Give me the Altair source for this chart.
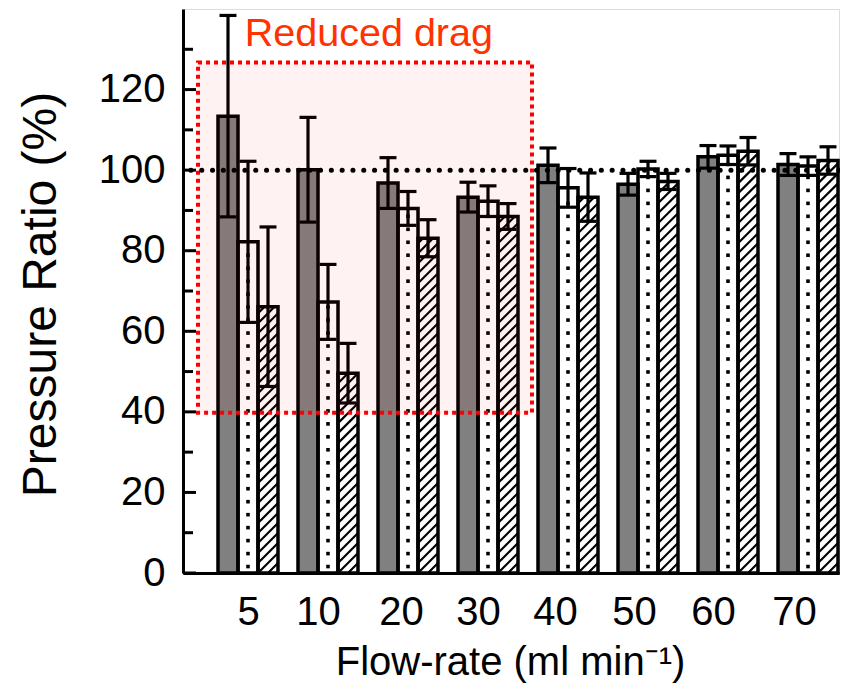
import altair as alt
import pandas as pd
import numpy as np

# ---------------- data ----------------
flow_labels = ["5", "10", "20", "30", "40", "50", "60", "70"]
label_pos = [0, 0.875, 1.9125, 2.875, 3.8375, 4.825, 5.8125, 6.825]

dark_vals = [113.4, 100.1, 96.8, 93.3, 101.2, 96.5, 103.3, 101.4]
dark_err = [25.0, 13.0, 6.3, 3.7, 4.3, 2.7, 2.8, 2.7]
dot_vals = [82.2, 67.3, 90.5, 92.3, 95.6, 100.3, 103.7, 101.0]
dot_err = [20.0, 9.3, 4.2, 3.8, 4.8, 1.9, 2.3, 2.3]
hatch_vals = [66.1, 49.6, 83.1, 88.5, 93.3, 97.2, 104.7, 102.4]
hatch_err = [19.8, 7.4, 4.6, 3.2, 6.0, 2.0, 3.4, 3.4]

y_major = [0, 20, 40, 60, 80, 100, 120]
y_minor = [10, 30, 50, 70, 90, 110, 130]

region_x = [-0.625, 3.55]
region_y = [39.8, 126.7]
ref_level = [100]
note_text = ["Reduced drag"]
note_pos = [(-0.04, 130.8)]

FONT = "Liberation Sans"

# ---------------- tables ----------------
series = [
    ("dark", dark_vals, dark_err, -0.25, "#808080"),
    ("dot", dot_vals, dot_err, 0.0, "#ffffff"),
    ("hatch", hatch_vals, hatch_err, 0.25, "#ffffff"),
]
half = 0.125
cap = 0.106
rows = []
for name, vals, errs, off, col in series:
    for i, (v, e) in enumerate(zip(vals, errs)):
        c = i + off
        rows.append(dict(series=name, c=c, x1=c - half, x2=c + half, zero=0, v=v,
                         lo=v - e, hi=v + e, cl=c - cap, cr=c + cap, fill=col))
bars = pd.DataFrame(rows)

# dot pattern (style) derived from the dotted bars
dot_step = 3.22
dots = []
for i, v in enumerate(dot_vals):
    for y in np.arange(1.6, v - 0.8, dot_step):
        dots.append(dict(x=i, y=y))
dots = pd.DataFrame(dots)

# hatch pattern (style) derived from the hatched bars
hstep = 2.48
hdy = 4.96
segs = []
for i, v in enumerate(hatch_vals):
    x0 = i + 0.125
    w = 0.25
    for y in np.arange(-hdy, v, hstep):
        t0 = max(0.0, (0 - y) / hdy)
        t1 = min(1.0, (v - y) / hdy)
        if t1 - t0 > 0.02:
            segs.append(dict(xa=x0 + t0 * w, xb=x0 + t1 * w, ya=y + t0 * hdy, yb=y + t1 * hdy))
segs = pd.DataFrame(segs)

region = pd.DataFrame([dict(x1=region_x[0], x2=region_x[1], y1=region_y[0], y2=region_y[1])])
ref = pd.DataFrame(dict(y=ref_level))
note = pd.DataFrame([dict(x=note_pos[0][0], y=note_pos[0][1], t=note_text[0])])
tmaj = pd.DataFrame(dict(v=y_major))
tmin = pd.DataFrame(dict(v=y_minor))

# ---------------- scales / axes ----------------
xscale = alt.Scale(domain=[-0.8125, 7.3875], nice=False, zero=False)
yscale = alt.Scale(domain=[0, 140], nice=False, zero=False)

lab_arr = "[" + ",".join("'%s'" % s for s in flow_labels) + "]"
pos_arr = "[" + ",".join(repr(p) for p in label_pos) + "]"
xaxis = alt.Axis(
    values=label_pos,
    labelExpr=f"{lab_arr}[indexof({pos_arr}, datum.value)]",
    ticks=False, tickSize=0, grid=False,
    labelFont=FONT, labelFontSize=40, labelColor="black",
    labelBaseline="middle", labelPadding=39, labelFlush=False, labelOverlap=False,
    domainColor="black", domainWidth=3,
    title="Flow-rate (ml min⁻¹)", titleFont=FONT, titleFontSize=40,
    titleFontWeight="normal", titleColor="black",
    titleX=327, titleY=89, titleAlign="center", titleBaseline="middle",
)
yaxis = alt.Axis(
    values=y_major,
    ticks=False, tickSize=0, grid=False,
    labelFont=FONT, labelFontSize=40, labelColor="black", labelPadding=18,
    domainColor="black", domainWidth=3,
    title="Pressure Ratio (%)", titleFont=FONT, titleFontSize=48,
    titleFontWeight="normal", titleColor="black",
    titleX=-142, titleY=285, titleAngle=270, titleAlign="center", titleBaseline="middle",
)


def X(f):
    return alt.X(f, type="quantitative", scale=xscale, axis=xaxis)


def Y(f):
    return alt.Y(f, type="quantitative", scale=yscale, axis=yaxis)


base = alt.Chart(bars)

fills = base.mark_rect(strokeWidth=0).encode(
    x=X("x1"), x2="x2", y=Y("zero"), y2="v", fill=alt.Fill("fill:N", scale=None)
)
dot_layer = alt.Chart(dots).mark_square(size=13, color="black", opacity=1).encode(
    x=X("x"), y=Y("y")
)
hatch_layer = alt.Chart(segs).mark_rule(color="black", strokeWidth=2.2).encode(
    x=X("xa"), x2="xb", y=Y("ya"), y2="yb"
)
outlines = base.mark_rect(fillOpacity=0, stroke="black", strokeWidth=3.5).encode(
    x=X("x1"), x2="x2", y=Y("zero"), y2="v"
)
err_v = base.mark_rule(color="black", strokeWidth=3.2).encode(
    x=X("c"), y=Y("lo"), y2="hi"
)
err_hi = base.mark_rule(color="black", strokeWidth=3.2).encode(
    x=X("cl"), x2="cr", y=Y("hi")
)
err_lo = base.mark_rule(color="black", strokeWidth=3.2).encode(
    x=X("cl"), x2="cr", y=Y("lo")
)
shade = alt.Chart(region).mark_rect(color="#ff0000", fillOpacity=0.05, strokeWidth=0).encode(
    x=X("x1"), x2="x2", y=Y("y1"), y2="y2"
)
border = alt.Chart(region).mark_rect(
    fillOpacity=0, stroke="#ff0000", strokeWidth=4, strokeDash=[4, 4]
).encode(x=X("x1"), x2="x2", y=Y("y1"), y2="y2")
ref_line = alt.Chart(ref).mark_rule(
    color="black", strokeWidth=5, strokeDash=[0.1, 10.7], strokeCap="round"
).encode(y=Y("y"))
note_layer = alt.Chart(note).mark_text(
    align="left", baseline="alphabetic", font=FONT, fontSize=39.5, color="#ff3300"
).encode(x=X("x"), y=Y("y"), text="t:N")
maj_ticks = alt.Chart(tmaj).mark_rule(color="black", strokeWidth=3).encode(
    x=alt.value(0), x2=alt.value(13), y=Y("v")
)
min_ticks = alt.Chart(tmin).mark_rule(color="black", strokeWidth=3).encode(
    x=alt.value(0), x2=alt.value(10), y=Y("v")
)

chart = alt.layer(
    fills, dot_layer, hatch_layer, outlines, err_v, err_hi, err_lo,
    shade, border, ref_line, note_layer, maj_ticks, min_ticks
).properties(
    width=656, height=564,
    padding={"left": 175, "top": 1, "right": 1, "bottom": 110},
    autosize="none",
).configure_view(stroke="black", strokeWidth=3).configure(background="white")

chart.save("out.html", embed_options={"renderer": "svg", "actions": False})
